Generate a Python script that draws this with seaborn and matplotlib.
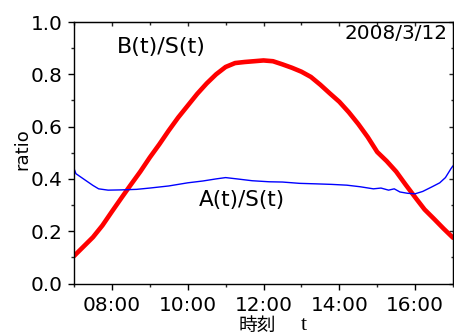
import matplotlib
matplotlib.use("Agg")
import matplotlib.pyplot as plt
import seaborn as sns
import pandas as pd
from matplotlib.ticker import FixedLocator, MultipleLocator, FuncFormatter

# Time of day (hours) and ratio readings for each series
b_hours = [7.00, 7.25, 7.50, 7.75, 8.00, 8.25, 8.50, 8.75, 9.00, 9.25, 9.50,
           9.75, 10.00, 10.25, 10.50, 10.75, 11.00, 11.25, 11.50, 11.75, 12.00,
           12.25, 12.50, 12.75, 13.00, 13.25, 13.50, 13.75, 14.00, 14.25, 14.50,
           14.75, 15.00, 15.25, 15.50, 15.75, 16.00, 16.25, 16.50, 16.75, 17.00]
b_ratio = [0.105, 0.141, 0.177, 0.222, 0.275, 0.327, 0.378, 0.428, 0.482, 0.532,
           0.585, 0.635, 0.680, 0.725, 0.765, 0.800, 0.828, 0.843, 0.847, 0.850,
           0.853, 0.850, 0.838, 0.825, 0.810, 0.790, 0.760, 0.727, 0.695, 0.655,
           0.610, 0.560, 0.503, 0.468, 0.428, 0.378, 0.330, 0.283, 0.247, 0.210,
           0.175]

a_hours = [7.00, 7.05, 7.20, 7.35, 7.50, 7.65, 7.90, 8.25, 8.65, 9.00, 9.50,
           10.00, 10.40, 10.75, 11.00, 11.30, 11.70, 12.15, 12.50, 12.95, 13.40,
           13.80, 14.20, 14.55, 14.90, 15.10, 15.30, 15.45, 15.60, 15.80, 16.00,
           16.20, 16.45, 16.65, 16.80, 16.95, 17.00]
a_ratio = [0.440, 0.420, 0.405, 0.390, 0.375, 0.362, 0.357, 0.358, 0.360, 0.365,
           0.373, 0.385, 0.392, 0.400, 0.405, 0.400, 0.393, 0.389, 0.388, 0.383,
           0.381, 0.379, 0.376, 0.370, 0.362, 0.365, 0.357, 0.362, 0.350, 0.345,
           0.343, 0.352, 0.370, 0.385, 0.405, 0.440, 0.450]

x_major = [8, 10, 12, 14, 16]
y_major = [0.0, 0.2, 0.4, 0.6, 0.8, 1.0]

sns.set_style("ticks")
plt.rcParams["font.family"] = ["DejaVu Sans"]
plt.rcParams["text.color"] = "black"
plt.rcParams["axes.labelcolor"] = "black"

W, H = 454, 335
fig = plt.figure(figsize=(W / 100, H / 100), dpi=100)
ax = fig.add_axes([74 / W, 51.5 / H, 379 / W, 261.5 / H])

df_b = pd.DataFrame({"hour": b_hours, "ratio": b_ratio})
df_a = pd.DataFrame({"hour": a_hours, "ratio": a_ratio})
sns.lineplot(data=df_b, x="hour", y="ratio", ax=ax, color="#ff0000",
             linewidth=3.3, estimator=None, sort=False)
sns.lineplot(data=df_a, x="hour", y="ratio", ax=ax, color="#0000ff",
             linewidth=1.0, estimator=None, sort=False)

ax.set_xlim(7, 17)
ax.set_ylim(0, 1.0)
ax.set_xlabel("")
ax.set_ylabel("")

hhmm = FuncFormatter(lambda v, p: f"{int(round(v)):02d}:00")
ax.xaxis.set_major_locator(FixedLocator(x_major))
ax.xaxis.set_minor_locator(MultipleLocator(1))
ax.xaxis.set_major_formatter(hhmm)
ax.yaxis.set_major_locator(FixedLocator(y_major))
ax.yaxis.set_minor_locator(MultipleLocator(0.1))
ax.yaxis.set_major_formatter(FuncFormatter(lambda v, p: f"{v:.1f}"))

for s in ax.spines.values():
    s.set_visible(True)
    s.set_linewidth(1.0)
    s.set_color("black")

ax.tick_params(which="major", direction="out", length=4.2, width=1.0,
               labelsize=14.4, colors="black")
ax.tick_params(which="minor", direction="out", length=2.2, width=1.0)
ax.tick_params(axis="y", which="major", pad=4)
ax.tick_params(axis="x", which="major", pad=5)

# Mirror ticks pointing into the plot on the top and right edges
top = ax.secondary_xaxis("top")
top.xaxis.set_major_locator(FixedLocator(x_major))
top.xaxis.set_minor_locator(MultipleLocator(1))
top.tick_params(which="major", direction="in", length=3.0, width=1.0, labeltop=False)
top.tick_params(which="minor", direction="in", length=1.8, width=1.0)
right = ax.secondary_yaxis("right")
right.yaxis.set_major_locator(FixedLocator(y_major))
right.yaxis.set_minor_locator(MultipleLocator(0.1))
right.tick_params(which="major", direction="in", length=3.0, width=1.0, labelright=False)
right.tick_params(which="minor", direction="in", length=1.8, width=1.0)

ax.text(117 / W, 1 - 47 / H, "B(t)/S(t)", transform=fig.transFigure,
        fontsize=16, ha="left", va="center")
ax.text(199 / W, 1 - 200 / H, "A(t)/S(t)", transform=fig.transFigure,
        fontsize=15.5, ha="left", va="center")
ax.text(448 / W, 1 - 33.5 / H, "2008/3/12", transform=fig.transFigure,
        fontsize=14.4, ha="right", va="center")

fig.text(22 / W, 1 - 149 / H, "ratio", rotation=90, fontsize=13,
         ha="center", va="center")
fig.text(257 / W, 1 - 325 / H, "時刻", fontsize=13.5,
         family=["Noto Sans CJK JP", "DejaVu Sans"], ha="center", va="center")
fig.text(304 / W, 1 - 325 / H, "t", fontsize=16,
         family=["Liberation Serif", "DejaVu Serif"], ha="center", va="center")

fig.savefig("out.png", dpi=100, facecolor="white")
